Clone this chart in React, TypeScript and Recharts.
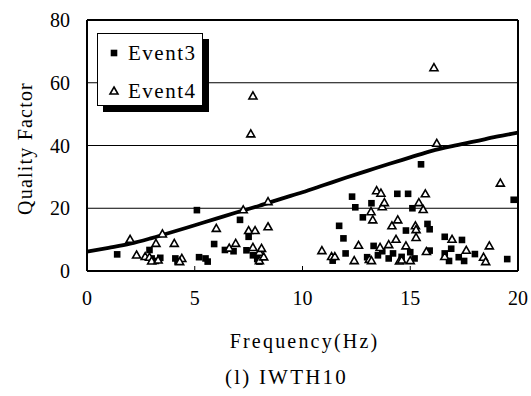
import React from 'react';
import {
  ComposedChart, Scatter, Line, XAxis, YAxis, CartesianGrid, ReferenceLine, Legend, Label
} from 'recharts';

// fitted curve
const curveFreq = [0, 1, 2, 3, 4, 5, 6, 7, 8, 9, 10, 11, 12, 13, 14, 15, 16, 17, 18, 19, 20];
const curveQ = [6.2, 7.4, 8.7, 10.5, 12.5, 14.6, 16.7, 18.8, 20.8, 23.0, 25.1, 27.4, 29.7, 31.9, 34.1, 36.2, 38.3, 39.9, 41.3, 42.8, 44.1];

// Event3 (filled squares)
const event3Freq = [
  1.4, 2.9, 3.0, 3.2, 3.4, 4.1, 4.2, 5.1, 5.2, 5.5, 5.6, 5.9, 6.4, 6.8, 7.1, 7.5, 7.4, 7.7, 7.9, 8.0,
  11.4, 11.7, 11.9, 12.0, 12.3, 12.45, 12.8, 13.2, 13.3, 13.0, 13.5, 13.7, 14.0, 14.2, 14.4, 14.6, 14.8, 14.9,
  15.0, 15.1, 15.2, 15.5, 15.8, 15.9, 15.9, 16.6, 16.6, 16.9, 16.8, 17.25, 17.4, 17.5, 18.0, 19.5, 19.8
];
const event3Q = [
  5.3, 6.7, 4.0, 3.2, 4.2, 4.0, 3.0, 19.4, 4.4, 4.0, 3.0, 8.6, 6.7, 6.3, 16.3, 10.9, 6.6, 5.0, 3.8, 3.0,
  3.3, 14.4, 10.4, 5.6, 23.7, 20.3, 17.1, 21.6, 8.0, 4.4, 5.0, 6.3, 4.0, 5.6, 24.6, 4.5, 12.9, 24.6,
  6.0, 20.0, 4.0, 34.0, 15.0, 13.3, 6.5, 10.9, 5.6, 7.1, 3.2, 4.4, 9.9, 3.2, 5.4, 3.8, 22.7
];

// Event4 (open triangles)
const event4Freq = [
  2.0, 2.3, 2.7, 2.9, 3.0, 3.2, 3.3, 3.5, 4.05, 4.4, 4.3, 6.0, 6.6, 6.9, 7.25, 7.5, 7.6, 7.7, 7.7, 7.8,
  8.0, 8.1, 8.0, 8.2, 8.4, 8.4, 10.9, 11.35, 11.5, 12.4, 12.6, 13.1, 13.2, 13.18, 13.26, 13.44, 13.64, 13.7,
  13.8, 13.6, 14.0, 14.15, 14.34, 14.42, 14.5, 14.6, 14.8, 15.0, 15.24, 15.27, 15.27, 15.4, 15.6, 15.7,
  15.75, 16.1, 16.23, 16.6, 16.94, 17.6, 18.4, 18.5, 18.67, 19.18
];
const event4Q = [
  10.1, 5.1, 4.6, 4.4, 3.2, 8.8, 3.5, 11.8, 8.8, 4.0, 3.0, 13.6, 7.3, 8.8, 19.5, 12.9, 43.7, 55.8, 7.5, 12.9,
  6.0, 7.2, 3.3, 4.5, 22.1, 14.1, 6.5, 4.6, 4.6, 3.3, 8.2, 3.7, 3.3, 18.9, 16.3, 25.6, 24.8, 20.5,
  21.8, 7.5, 8.4, 14.4, 10.1, 16.3, 3.2, 3.5, 8.0, 3.3, 14.4, 13.2, 10.7, 21.8, 19.6, 24.6,
  6.2, 64.8, 40.7, 4.6, 10.1, 6.6, 4.4, 3.0, 8.0, 28.0
];

const xTicks = [0, 5, 10, 15, 20];
const yTicks = [0, 20, 40, 60, 80];
const seriesNames = ['Event3', 'Event4'];

const curveData = curveFreq.map((x, i) => ({ x, y: curveQ[i] }));
const event3Data = event3Freq.map((x, i) => ({ x, y: event3Q[i] }));
const event4Data = event4Freq.map((x, i) => ({ x, y: event4Q[i] }));

const FONT = 'Liberation Serif, DejaVu Serif, Times New Roman, serif';

const SquareDot = (props: any) => {
  const { cx, cy } = props;
  return <rect x={cx - 3.3} y={cy - 3.3} width={6.6} height={6.6} fill="#000" />;
};

const TriangleDot = (props: any) => {
  const { cx, cy } = props;
  return (
    <polygon
      points={`${cx},${cy - 4} ${cx + 4},${cy + 3} ${cx - 4},${cy + 3}`}
      fill="#fff" stroke="#000" strokeWidth={1.6} strokeLinejoin="miter"
    />
  );
};

const YTitle = (props: any) => {
  const { viewBox } = props;
  const x = viewBox.x + 25;
  const y = viewBox.y + viewBox.height / 2 + 3;
  return (
    <text x={x} y={y} transform={`rotate(-90, ${x}, ${y})`} textAnchor="middle" dominantBaseline="central"
      fontFamily={FONT} fontSize={20} letterSpacing={1.2} fill="#000">
      Quality Factor
    </text>
  );
};

const XTitle = (props: any) => {
  const { viewBox } = props;
  return (
    <text x={viewBox.x + viewBox.width / 2 + 2} y={viewBox.y + 77} textAnchor="middle"
      fontFamily={FONT} fontSize={20} letterSpacing={2.2} fill="#000">
      Frequency(Hz)
    </text>
  );
};

const Caption = (props: any) => {
  const { viewBox } = props;
  return (
    <text x={viewBox.x + viewBox.width / 2 - 16} y={viewBox.y + 113} textAnchor="middle"
      fontFamily={FONT} fontSize={21} letterSpacing={2.2} fill="#000">
      (l) IWTH10
    </text>
  );
};

const LegendBox = () => (
  <div style={{
    position: 'relative', width: 106, height: 73, boxSizing: 'border-box', border: '1px solid #000',
    background: '#fff', boxShadow: '6px 6px 0 #000', fontFamily: FONT, fontSize: 21, letterSpacing: 1.5, color: '#000'
  }}>
    {seriesNames.map((name, i) => (
      <div key={name} style={{ position: 'absolute', left: 0, top: 7 + i * 38, height: 24, width: 104, display: 'flex', alignItems: 'center' }}>
        <svg width={12} height={12} style={{ marginLeft: 10, marginRight: 8 }}>
          {i === 0
            ? <rect x={2.7} y={2.7} width={6.6} height={6.6} fill="#000" />
            : <polygon points="6,2 10,9 2,9" fill="#fff" stroke="#000" strokeWidth={1.6} />}
        </svg>
        <span>{name}</span>
      </div>
    ))}
  </div>
);

export default function App() {
  return (
    <div style={{ position: 'absolute', left: 0, top: 0, background: '#fff', fontFamily: FONT }}>
      <ComposedChart width={531} height={396} margin={{ top: 20, right: 13, left: 0, bottom: 0 }}
        style={{ fontFamily: FONT }}>
        <CartesianGrid horizontal vertical={false} stroke="#000" strokeWidth={1} />
        <XAxis
          type="number" dataKey="x" domain={[0, 20]} ticks={xTicks} height={125}
          axisLine={{ stroke: '#000', strokeWidth: 2 }} tickLine={{ stroke: '#000', strokeWidth: 1 }}
          tickSize={-5} tickMargin={25}
          tick={{ fill: '#000', fontSize: 20, fontFamily: FONT }}
        >
          <Label content={<XTitle />} />
          <Label content={<Caption />} />
        </XAxis>
        <YAxis
          type="number" dataKey="y" domain={[0, 80]} ticks={yTicks} width={87}
          axisLine={{ stroke: '#000', strokeWidth: 2 }} tickLine={false} tickSize={0} tickMargin={17}
          tick={{ fill: '#000', fontSize: 20, fontFamily: FONT }}
        >
          <Label content={<YTitle />} />
        </YAxis>
        <ReferenceLine x={20} stroke="#000" strokeWidth={2} />
        <ReferenceLine y={80} stroke="#000" strokeWidth={2} />
        <Legend
          layout="vertical" align="center" verticalAlign="middle"
          wrapperStyle={{ left: 97, top: 33, width: 106, height: 73 }}
          content={<LegendBox />}
        />
        <Scatter name="Event3" data={event3Data} shape={<SquareDot />} isAnimationActive={false} />
        <Scatter name="Event4" data={event4Data} shape={<TriangleDot />} isAnimationActive={false} />
        <Line
          data={curveData} dataKey="y" type="monotone" stroke="#000" strokeWidth={3.8}
          dot={false} activeDot={false} legendType="none" isAnimationActive={false}
        />
      </ComposedChart>
    </div>
  );
}
